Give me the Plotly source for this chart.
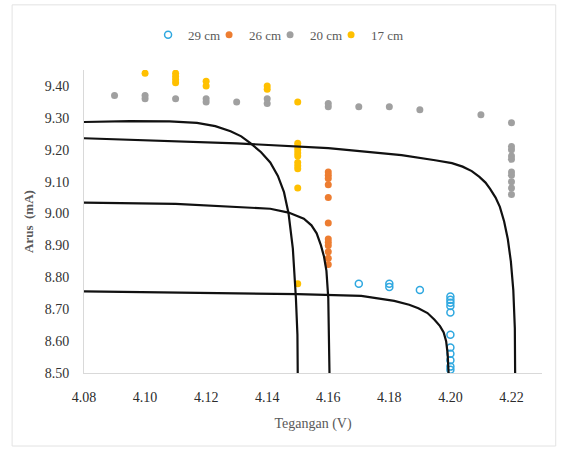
import plotly.graph_objects as go

# ---- scatter data (Tegangan V, Arus mA) ----
x29 = [4.17, 4.18, 4.18, 4.19, 4.20, 4.20, 4.20, 4.20, 4.20, 4.20, 4.20, 4.20, 4.20, 4.20, 4.20]
y29 = [8.78, 8.78, 8.77, 8.76, 8.74, 8.73, 8.72, 8.71, 8.69, 8.62, 8.58, 8.56, 8.54, 8.52, 8.51]

x26 = [4.16, 4.16, 4.16, 4.16, 4.16, 4.16, 4.16, 4.16, 4.16, 4.16, 4.16, 4.16]
y26 = [9.13, 9.12, 9.11, 9.09, 9.05, 8.97, 8.92, 8.91, 8.90, 8.88, 8.86, 8.84]

x20 = [4.09, 4.10, 4.10, 4.11, 4.12, 4.12, 4.13, 4.14, 4.14, 4.16, 4.16, 4.17, 4.18, 4.19, 4.21,
       4.22, 4.22, 4.22, 4.22, 4.22, 4.22, 4.22, 4.22, 4.22, 4.22]
y20 = [9.37, 9.37, 9.36, 9.36, 9.36, 9.35, 9.35, 9.36, 9.345, 9.345, 9.335, 9.335, 9.335, 9.325, 9.31,
       9.285, 9.21, 9.20, 9.18, 9.17, 9.13, 9.12, 9.10, 9.08, 9.06]

x17 = [4.10, 4.11, 4.11, 4.11, 4.11, 4.12, 4.12, 4.14, 4.14, 4.15, 4.15, 4.15, 4.15, 4.15,
       4.15, 4.15, 4.15, 4.15, 4.15, 4.15]
y17 = [9.44, 9.44, 9.43, 9.42, 9.41, 9.415, 9.40, 9.40, 9.39, 9.35, 9.22, 9.21, 9.20, 9.19,
       9.18, 9.16, 9.15, 9.14, 9.08, 8.78]

# ---- I-V curves ----
cA_x = [4.08, 4.095, 4.108, 4.117, 4.123, 4.128, 4.1315, 4.1346, 4.138, 4.141, 4.1435, 4.1455,
        4.147, 4.1484, 4.1494, 4.1499, 4.150]
cA_y = [9.287, 9.290, 9.289, 9.284, 9.274, 9.258, 9.242, 9.220, 9.192, 9.160, 9.118, 9.067,
        9.000, 8.890, 8.735, 8.620, 8.500]

cB_x = [4.08, 4.10, 4.13, 4.16, 4.184, 4.195, 4.2005, 4.204, 4.207, 4.2095, 4.2115, 4.213,
        4.2148, 4.2162, 4.2176, 4.2188, 4.2198, 4.2206, 4.2211, 4.2212]
cB_y = [9.236, 9.230, 9.220, 9.205, 9.183, 9.167, 9.158, 9.147, 9.133, 9.115, 9.097, 9.077,
        9.050, 9.021, 8.975, 8.920, 8.850, 8.760, 8.640, 8.500]

cC_x = [4.08, 4.11, 4.141, 4.147, 4.152, 4.1545, 4.1562, 4.1576, 4.1586, 4.1594, 4.160, 4.1603, 4.1604]
cC_y = [9.034, 9.030, 9.015, 9.003, 8.984, 8.963, 8.938, 8.900, 8.865, 8.820, 8.735, 8.620, 8.500]

cD_x = [4.08, 4.12, 4.15, 4.1708, 4.1816, 4.1865, 4.1895, 4.1925, 4.1948, 4.1966, 4.1978, 4.1986,
        4.1991, 4.1994]
cD_y = [8.756, 8.752, 8.747, 8.742, 8.726, 8.714, 8.703, 8.688, 8.667, 8.647, 8.627, 8.600,
        8.560, 8.500]

xticks = [4.08, 4.10, 4.12, 4.14, 4.16, 4.18, 4.20, 4.22]
yticks = [8.50, 8.60, 8.70, 8.80, 8.90, 9.00, 9.10, 9.20, 9.30, 9.40]

FONT = '"Liberation Serif", "Times New Roman", Times, serif'

fig = go.Figure()

fig.add_trace(go.Scatter(x=x29, y=y29, mode="markers", name="29 cm",
                         marker=dict(symbol="circle-open", size=7, color="#2fa8e0", line=dict(width=1.5))))
fig.add_trace(go.Scatter(x=x26, y=y26, mode="markers", name="26 cm",
                         marker=dict(symbol="circle", size=7, color="#ed7d31")))
fig.add_trace(go.Scatter(x=x20, y=y20, mode="markers", name="20 cm",
                         marker=dict(symbol="circle", size=7, color="#a0a0a0")))
fig.add_trace(go.Scatter(x=x17, y=y17, mode="markers", name="17 cm",
                         marker=dict(symbol="circle", size=7, color="#ffc000")))
# empty spacer entry so the last legend label is not clipped
fig.add_trace(go.Scatter(x=[None], y=[None], mode="markers", name=" ",
                         marker=dict(color="rgba(0,0,0,0)"), hoverinfo="skip"))

for cx, cy in [(cA_x, cA_y), (cB_x, cB_y), (cC_x, cC_y), (cD_x, cD_y)]:
    fig.add_trace(go.Scatter(x=cx, y=cy, mode="lines", line=dict(color="#111111", width=2.2, shape="linear"),
                             showlegend=False, hoverinfo="skip"))

# faint chart frame
fig.add_shape(type="rect", xref="paper", yref="paper", x0=-0.157, x1=1.03, y0=-0.241, y1=1.215,
              line=dict(color="#e3e3e3", width=1), fillcolor="rgba(0,0,0,0)", layer="below")

fig.update_layout(
    width=563, height=452,
    margin=dict(l=84, r=21, t=70, b=79),
    paper_bgcolor="white", plot_bgcolor="white",
    font=dict(family=FONT, size=13, color="#404040"),
    legend=dict(orientation="h", xref="container", yref="container", x=0.263, y=0.923,
                xanchor="left", yanchor="middle", font=dict(family=FONT, size=13, color="#595959"),
                itemwidth=30, entrywidth=16, entrywidthmode="pixels", traceorder="normal"),
    xaxis=dict(range=[4.08, 4.23], tickvals=xticks, ticktext=[f"{v:.2f}" for v in xticks],
               showgrid=False, zeroline=False, showline=True, linecolor="#d9d9d9", linewidth=1,
               ticks="outside", ticklen=11, tickcolor="rgba(0,0,0,0)",
               tickfont=dict(family=FONT, size=14, color="#2b2b2b"),
               title=dict(text="Tegangan (V)", font=dict(family=FONT, size=14, color="#595959"), standoff=14)),
    yaxis=dict(range=[8.5, 9.45], tickvals=yticks, ticktext=[f"{v:.2f}" for v in yticks],
               showgrid=False, zeroline=False, showline=True, linecolor="#d9d9d9", linewidth=1,
               ticks="outside", ticklen=11, tickcolor="rgba(0,0,0,0)",
               tickfont=dict(family=FONT, size=14, color="#333333"),
               title=dict(text="<b>Arus  (mA)</b>", font=dict(family=FONT, size=13, color="#595959"), standoff=8)),
)

fig.write_html("out.html")
